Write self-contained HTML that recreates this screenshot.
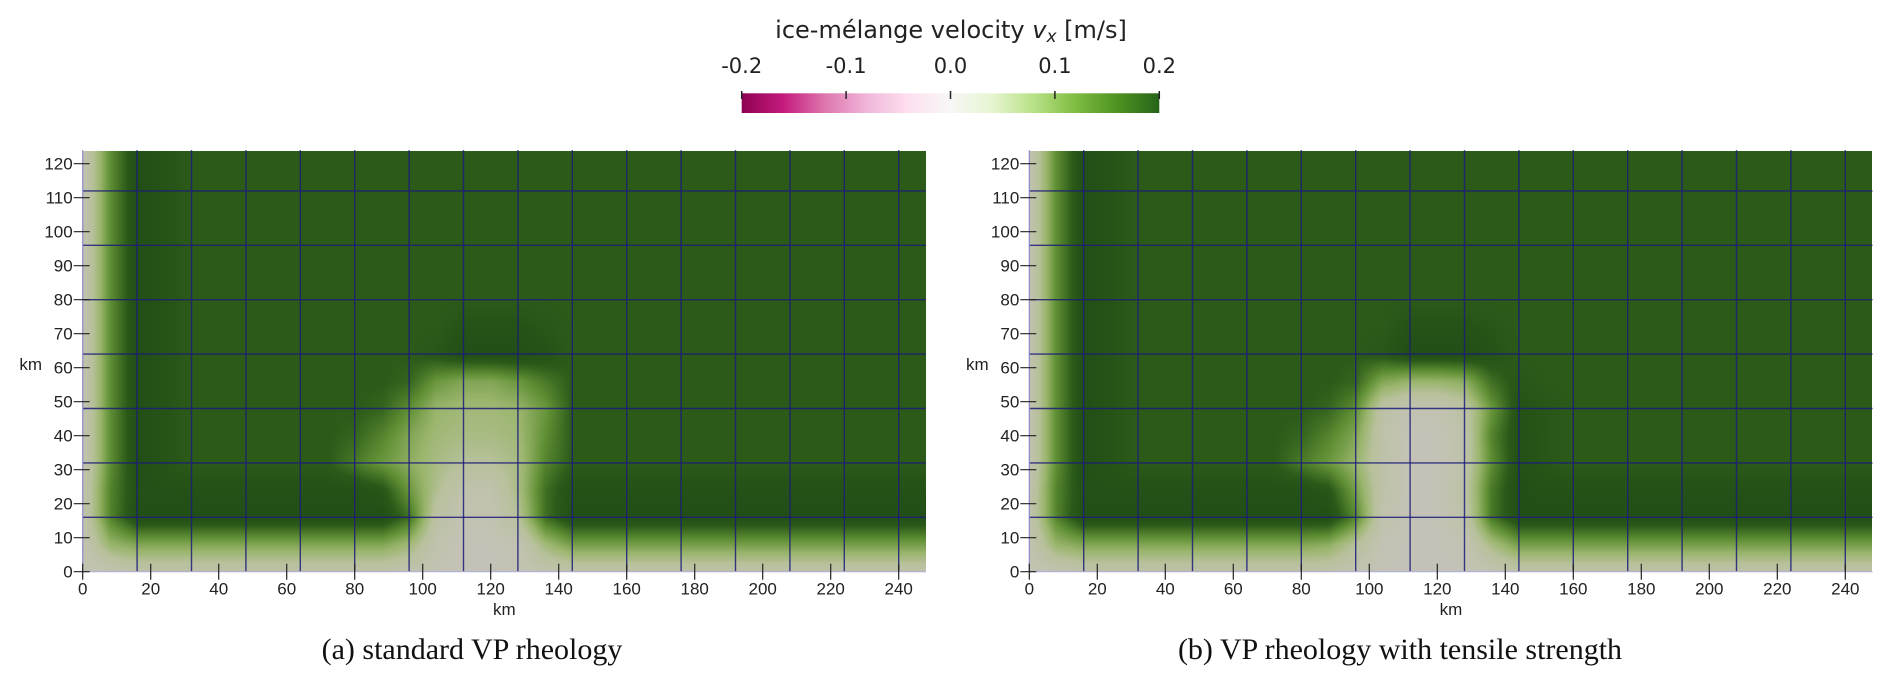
<!DOCTYPE html>
<html><head><meta charset="utf-8">
<style>
body{margin:0;background:#fff;width:1892px;height:685px;overflow:hidden;position:relative;font-family:"Liberation Sans","DejaVu Sans",sans-serif;}
canvas{position:absolute;}
svg{position:absolute;left:0;top:0;}
</style></head><body>
<canvas id="fa" width="843" height="421" style="left:83px;top:151px"></canvas>
<canvas id="fb" width="843" height="421" style="left:1029px;top:151px"></canvas>
<svg id="svg" width="1892" height="685"></svg>
<script>
// node values every 8 km in x (0..248) and y (0..128); 0 = stagnant (gray), 1 = ~0.2 m/s
const S = [0.05,0.75,1.15,1.08,1,1,1,1,1,1,1,1,1,1,1,1,1,1,1,1,1,1,1,1,1,1,1,1,1,1,1,1];
const fieldA = [
 [0.02,0.05,0.15,0.15,0.15,0.15,0.15,0.15,0.15,0.15,0.15,0.15,0.1,0.02,0,0,0.02,0.08,0.15,0.15,0.15,0.15,0.15,0.15,0.15,0.15,0.15,0.15,0.15,0.15,0.15,0.15],
 [0.05,0.5,0.6,0.6,0.6,0.6,0.6,0.6,0.6,0.6,0.6,0.6,0.45,0.1,0,0,0.05,0.45,0.65,0.65,0.65,0.65,0.65,0.65,0.65,0.65,0.65,0.65,0.65,0.65,0.65,0.65],
 [0.1,0.8,1.15,1.15,1.15,1.15,1.15,1.15,1.15,1.15,1.15,1.15,0.9,0.2,0.05,0.05,0.3,0.9,1.15,1.15,1.15,1.15,1.15,1.15,1.15,1.15,1.15,1.15,1.15,1.15,1.15,1.15],
 [0.1,0.8,1.12,1.12,1.12,1.12,1.12,1.12,1.12,1.12,1.12,1.05,0.7,0.35,0.1,0.1,0.4,0.9,1.12,1.12,1.12,1.12,1.12,1.12,1.12,1.12,1.12,1.12,1.12,1.12,1.12,1.12],
 [0.05,0.75,1.15,1.08,1,1,1,1,1,1,0.85,0.7,0.55,0.4,0.3,0.3,0.4,0.8,1,1,1,1,1,1,1,1,1,1,1,1,1,1],
 [0.05,0.75,1.15,1.08,1,1,1,1,1,1,0.95,0.8,0.6,0.45,0.4,0.4,0.45,0.75,1,1,1,1,1,1,1,1,1,1,1,1,1,1],
 [0.05,0.75,1.15,1.08,1,1,1,1,1,1,1,0.95,0.75,0.5,0.45,0.45,0.5,0.7,1,1,1,1,1,1,1,1,1,1,1,1,1,1],
 [0.05,0.75,1.15,1.08,1,1,1,1,1,1,1,1,0.95,0.7,0.6,0.6,0.7,0.85,1,1,1,1,1,1,1,1,1,1,1,1,1,1],
 [0.05,0.75,1.15,1.08,1,1,1,1,1,1,1,1,1,1.05,1.15,1.15,1.15,1.1,1,1,1,1,1,1,1,1,1,1,1,1,1,1],
 [0.05,0.75,1.15,1.08,1,1,1,1,1,1,1,1,1,1,1.1,1.1,1.1,1.05,1,1,1,1,1,1,1,1,1,1,1,1,1,1],
 S,S,S,S,S,S,S
];
const fieldB = [
 [0.02,0.05,0.15,0.15,0.15,0.15,0.15,0.15,0.15,0.15,0.15,0.15,0.05,0,0,0,0,0.05,0.15,0.15,0.15,0.15,0.15,0.15,0.15,0.15,0.15,0.15,0.15,0.15,0.15,0.15],
 [0.05,0.5,0.6,0.6,0.6,0.6,0.6,0.6,0.6,0.6,0.6,0.55,0.3,0.02,0,0,0.02,0.4,0.65,0.65,0.65,0.65,0.65,0.65,0.65,0.65,0.65,0.65,0.65,0.65,0.65,0.65],
 [0.1,0.8,1.15,1.15,1.15,1.15,1.15,1.15,1.15,1.15,1.15,1.15,0.8,0.1,0,0,0.15,0.85,1.15,1.15,1.15,1.15,1.15,1.15,1.15,1.15,1.15,1.15,1.15,1.15,1.15,1.15],
 [0.1,0.8,1.12,1.12,1.12,1.12,1.12,1.12,1.12,1.12,1.12,1.05,0.65,0.15,0,0,0.2,0.85,1.15,1.12,1.12,1.12,1.12,1.12,1.12,1.12,1.12,1.12,1.12,1.12,1.12,1.12],
 [0.05,0.75,1.15,1.08,1,1,1,1,1,1,0.85,0.7,0.5,0.15,0,0,0.15,0.75,1.12,1.05,1,1,1,1,1,1,1,1,1,1,1,1],
 [0.05,0.75,1.15,1.08,1,1,1,1,1,1,0.95,0.8,0.6,0.15,0,0,0.15,0.8,1.12,1.05,1,1,1,1,1,1,1,1,1,1,1,1],
 [0.05,0.75,1.15,1.08,1,1,1,1,1,1,1,0.95,0.75,0.2,0.05,0.05,0.2,0.7,1.1,1.05,1,1,1,1,1,1,1,1,1,1,1,1],
 [0.05,0.75,1.15,1.08,1,1,1,1,1,1,1,1,0.95,0.6,0.5,0.5,0.55,0.9,1.05,1,1,1,1,1,1,1,1,1,1,1,1,1],
 [0.05,0.75,1.15,1.08,1,1,1,1,1,1,1,1,1,1.05,1.15,1.15,1.15,1.1,1,1,1,1,1,1,1,1,1,1,1,1,1,1],
 [0.05,0.75,1.15,1.08,1,1,1,1,1,1,1,1,1,1,1.1,1.1,1.1,1.05,1,1,1,1,1,1,1,1,1,1,1,1,1,1],
 S,S,S,S,S,S,S
];
const xTicks = [0,20,40,60,80,100,120,140,160,180,200,220,240];
const yTicks = [0,10,20,30,40,50,60,70,80,90,100,110,120];
const meshX = [16,32,48,64,80,96,112,128,144,160,176,192,208,224,240];
const meshY = [16,32,48,64,80,96,112];
const cbTicks = [-0.2,-0.1,0.0,0.1,0.2];
const cbLabels = ["-0.2","-0.1","0.0","0.1","0.2"];

const PX = 3.4; // px per km
const stops = [[0,[196,194,182]],[0.3,[184,193,156]],[0.5,[154,181,108]],[0.75,[95,143,52]],[1.0,[43,90,25]],[1.15,[33,79,22]]];
function cmap(v){
  if(v<=stops[0][0]) return stops[0][1];
  for(let i=1;i<stops.length;i++){
    if(v<=stops[i][0]){const a=stops[i-1],b=stops[i];const t=(v-a[0])/(b[0]-a[0]);
      return [0,1,2].map(k=>a[1][k]+(b[1][k]-a[1][k])*t);}
  }
  return stops[stops.length-1][1];
}
function drawField(id,f){
  const c=document.getElementById(id),ctx=c.getContext('2d');
  const W=c.width,H=c.height,img=ctx.createImageData(W,H);
  for(let py=0;py<H;py++){
    const yk=(H-py-0.5)/PX, gy=Math.min(yk/8,15.999), j=Math.floor(gy), ty=gy-j;
    for(let px=0;px<W;px++){
      const xk=(px+0.5)/PX, gx=Math.min(xk/8,30.999), i=Math.floor(gx), tx=gx-i;
      const v=(f[j][i]*(1-tx)+f[j][i+1]*tx)*(1-ty)+(f[j+1][i]*(1-tx)+f[j+1][i+1]*tx)*ty;
      const col=cmap(v),o=(py*W+px)*4;
      img.data[o]=col[0];img.data[o+1]=col[1];img.data[o+2]=col[2];img.data[o+3]=255;
    }
  }
  ctx.putImageData(img,0,0);
}
drawField('fa',fieldA);drawField('fb',fieldB);

const svg=document.getElementById('svg'),NS='http://www.w3.org/2000/svg';
function el(tag,attrs,parent){const e=document.createElementNS(NS,tag);for(const k in attrs)e.setAttribute(k,attrs[k]);(parent||svg).appendChild(e);return e;}

function panel(x0,tag,caption,capX){
  const g=el('g',{});
  
  
  const y0=571.7, sx=k=>x0+k*PX, sy=k=>y0-k*PX;
  const W=248*PX;
  meshX.forEach(k=>{const l=el('line',{x1:sx(k),x2:sx(k),y1:sy(124),y2:y0,stroke:'#1c1c78','stroke-opacity':0.85,'stroke-width':1.4},g);
    
    });
  meshY.forEach(k=>{const l=el('line',{x1:x0,x2:sx(248),y1:sy(k),y2:sy(k),stroke:'#1c1c78','stroke-opacity':0.85,'stroke-width':1.4},g);
    
    });
  el('line',{x1:x0,x2:x0,y1:sy(124),y2:y0,stroke:'#8a8ac8','stroke-width':1.2},g);
  el('line',{x1:x0,x2:sx(248),y1:y0,y2:y0,stroke:'#b0b0d8','stroke-width':1.2},g);
  yTicks.forEach(k=>{
    el('line',{x1:x0-9,x2:x0+7,y1:sy(k),y2:sy(k),stroke:'#222','stroke-width':1.2},g);
    const t=el('text',{x:x0-10,y:sy(k)+6,'text-anchor':'end','font-size':17,fill:'#222'},g);t.textContent=k;
    
    
  });
  xTicks.forEach(k=>{
    el('line',{x1:sx(k),x2:sx(k),y1:y0-8,y2:y0+8,stroke:'#222','stroke-width':1.2},g);
    const t=el('text',{x:sx(k),y:y0+23,'text-anchor':'middle','font-size':17,fill:'#222'},g);t.textContent=k;
    
    
  });
  const yt=el('text',{x:x0-52,y:370,'text-anchor':'middle','font-size':17,fill:'#222'},g);yt.textContent='km';
  
  
  const xt=el('text',{x:x0+W/2,y:615,'text-anchor':'middle','font-size':17,fill:'#222'},g);xt.textContent='km';
  
  
  const c=el('text',{x:capX,y:659,'text-anchor':'middle','font-size':30,'font-family':'Liberation Serif, serif',fill:'#111'},g);c.textContent=caption;
  
  
}
panel(82.7,'a','(a) standard VP rheology',472);
panel(1029.3,'b','(b) VP rheology with tensile strength',1400);

// colorbar
const cbX0=741.7,cbX1=1159.3,cbY=93.3,cbH=19.7;
const cbx=v=>cbX0+(v+0.2)/0.4*(cbX1-cbX0);
const defs=el('defs',{});
const lg=el('linearGradient',{id:'piyg',x1:0,x2:1,y1:0,y2:0},defs);
['#8e0152','#c51b7d','#de77ae','#f1b6da','#fde0ef','#f7f7f7','#e6f5d0','#b8e186','#7fbc41','#4d9221','#276419'].forEach((c,i)=>el('stop',{offset:i/10,'stop-color':c},lg));
const bar=el('rect',{x:cbX0,y:cbY,width:cbX1-cbX0,height:cbH,fill:'url(#piyg)'});


cbTicks.forEach((v,i)=>{
  el('line',{x1:cbx(v),x2:cbx(v),y1:91,y2:99,stroke:'#222','stroke-width':1.5});
  const t=el('text',{x:cbx(v),y:73,'text-anchor':'middle','font-size':21,'font-family':'DejaVu Sans, sans-serif',fill:'#222'});t.textContent=cbLabels[i];
  
  
});
const title=el('text',{x:951,y:38,'text-anchor':'middle','font-size':24,'font-family':'DejaVu Sans, sans-serif',fill:'#222'});
title.innerHTML='ice-mélange velocity <tspan font-style="italic">v</tspan><tspan font-style="italic" font-size="17" dy="4">x</tspan><tspan dy="-4"> [m/s]</tspan>';


</script>
</body></html>
